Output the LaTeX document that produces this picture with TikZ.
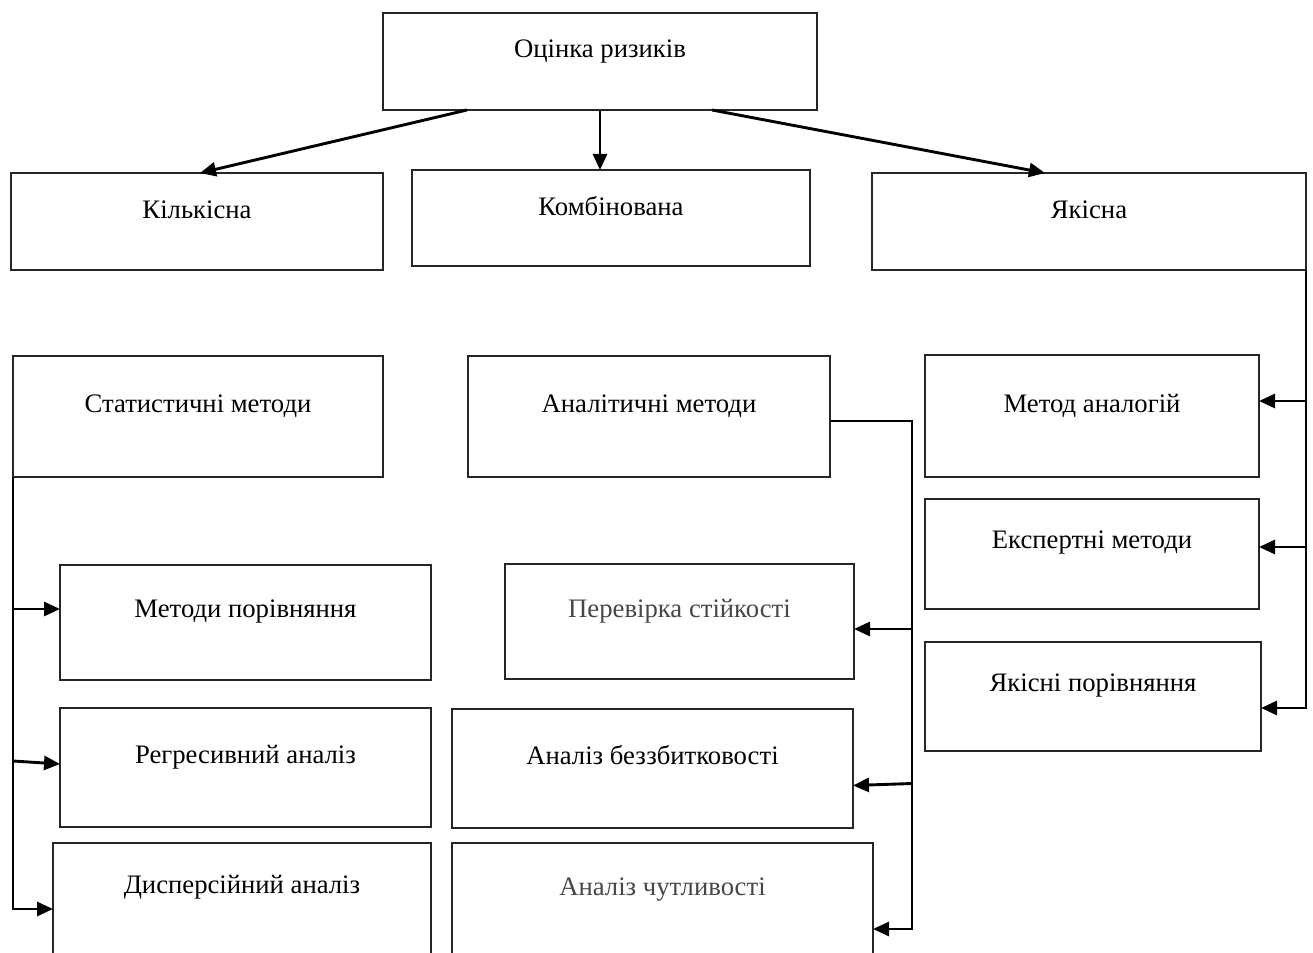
\documentclass[tikz,border=0pt]{standalone}
\usepackage{fontspec}
\setmainfont{Liberation Serif}
\usetikzlibrary{calc,arrows.meta}
\newcommand{\mybox}[8]{%
  \node[boxst, minimum width={(#4-#2)*1pt}, minimum height={(#5-#3)*1pt}] (#1) at (#2,#3) {};
  \node[#7] (#1-t) at ({(#2+#4)/2},#6) {#8};
}
\begin{document}
\begin{tikzpicture}[x=1pt,y=-1pt,
  boxst/.style={draw=black!85, line width=1.2pt, inner sep=0pt, outer sep=0pt, anchor=north west},
  txt/.style={anchor=base, inner sep=0pt, font=\fontsize{26.7}{30}\selectfont},
  gtxt/.style={txt, text=black!72},
  conn/.style={line width=2.9pt, draw=black},
  arr/.style={conn, -{Triangle[length=16pt,width=14pt]}}]
\useasboundingbox (0,0) rectangle (1313,952);
\clip (0,0) rectangle (1313,952);
\fill[white] (0,0) rectangle (1313,952);

\mybox{top}{383}{13}{817}{110}{58}{txt}{Оцінка ризиків}
\mybox{kil}{11}{173}{383}{270}{218}{txt}{Кількісна}
\mybox{komb}{412}{170}{810}{266}{215}{txt}{Комбінована}
\mybox{yak}{872}{173}{1306}{270}{218}{txt}{Якісна}
\mybox{stat}{13}{356}{383}{477}{412}{txt}{Статистичні методи}
\mybox{ana}{468}{356}{830}{477}{412}{txt}{Аналітичні методи}
\mybox{ma}{925}{355}{1259}{477}{412}{txt}{Метод аналогій}
\mybox{ex}{925}{499}{1259}{609}{548}{txt}{Експертні методи}
\mybox{yp}{925}{642}{1261}{751}{691}{txt}{Якісні порівняння}
\mybox{mp}{60}{565}{431}{680}{617}{txt}{Методи порівняння}
\mybox{pv}{505}{564}{854}{679}{617}{gtxt}{Перевірка стійкості}
\mybox{rg}{60}{708}{431}{827}{763}{txt}{Регресивний аналіз}
\mybox{bz}{452}{709}{853}{828}{764}{txt}{Аналіз беззбитковості}
\mybox{dis}{53}{843}{431}{975}{893}{txt}{Дисперсійний аналіз}
\mybox{ch}{452}{843}{873}{975}{895}{gtxt}{Аналіз чутливості}

% top level
\draw[arr] ($(top.south west)+(84,0)$) -- ($(kil.north west)+(189,0)$);
\draw[arr] (top.south) -- (top.south |- komb.north);
\draw[arr] ($(top.south east)+(-105,0)$) -- ($(yak.north west)+(173,0)$);

% right bus
\draw[arr] (yak.south east) |- ($(yp.south east)+(0,-43)$);
\draw[arr] ($(ma.east)+(47,-15)$) -- ($(ma.east)+(0,-15)$);
\draw[arr] ($(ex.east)+(47,-7)$) -- ($(ex.east)+(0,-7)$);

% left bus
\draw[arr] (stat.south west) |- ($(dis.north west)+(0,66)$);
\draw[arr] ($(mp.west)+(-47,-13.5)$) -- ($(mp.west)+(0,-13.5)$);
\draw[arr] ($(rg.north west)+(-47,53)$) -- ($(rg.north west)+(0,56)$);

% middle bus
\draw[arr] ($(ana.east)+(0,4.5)$) -| ($(ch.north east)+(39,86)$) -- ($(ch.north east)+(0,86)$);
\draw[arr] ($(pv.east)+(58,7.5)$) -- ($(pv.east)+(0,7.5)$);
\draw[arr] ($(bz.east)+(59,15)$) -- ($(bz.east)+(0,17)$);
\end{tikzpicture}
\end{document}
